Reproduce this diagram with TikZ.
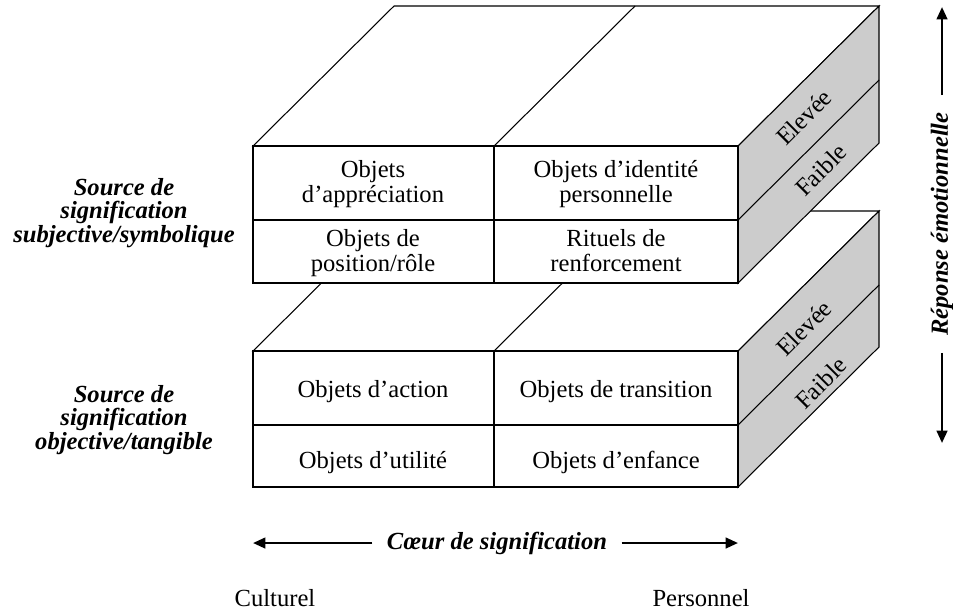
\documentclass[tikz,border=0pt]{standalone}
\usepackage{fontspec}
\setmainfont{Liberation Serif}
\usetikzlibrary{arrows.meta,calc}
\definecolor{sidegray}{gray}{0.8}

\begin{document}
\begin{tikzpicture}[x=0.02cm, y=-0.02cm, line width=0.6pt,
  cell/.style={align=center, font=\fontsize{14}{14.5}\selectfont},
  onecell/.style={anchor=base, font=\fontsize{14}{14.5}\selectfont},
  sidelabel/.style={rotate=45, inner sep=0pt, font=\fontsize{14}{14.5}\selectfont},
  axislabel/.style={align=center, font=\fontsize{14}{13.5}\selectfont\bfseries\itshape},
  bigarrow/.style={line width=1.4pt, -{Triangle[length=7pt,width=6pt]}}]
\useasboundingbox (0,0) rectangle (955,610);
% Lower block: top face
\draw [fill=white] (253,351) -- (394,211) -- (879,211) -- (738,351) -- cycle;
\draw (494,351) -- (635,211);
% Lower block: side face
\draw [fill=sidegray] (738,351) -- (879,211) -- (879,347) -- (738,487) -- cycle;
\draw (738,425) -- (879,285);
% Lower block: front face
\draw [fill=white] (253,351) rectangle (738,487);
\draw (253,425) -- (738,425);
\draw (494,351) -- (494,487);
% Upper block: top face
\draw [fill=white] (253,146) -- (394,6) -- (879,6) -- (738,146) -- cycle;
\draw (494,146) -- (635,6);
% Upper block: side face
\draw [fill=sidegray] (738,146) -- (879,6) -- (879,143) -- (738,283) -- cycle;
\draw (738,220) -- (879,80);
% Upper block: front face
\draw [fill=white] (253,146) rectangle (738,283);
\draw (253,220) -- (738,220);
\draw (494,146) -- (494,283);
% Cells, upper block
\node [cell] (appr) at (373,185) {Objets\strut\\d’appréciation\strut};
\node [cell] (ident) at (616,185) {Objets d’identité\strut\\personnelle\strut};
\node [cell] (posit) at (373,254) {Objets de\strut\\position/rôle\strut};
\node [cell] (ritu) at (616,254) {Rituels de\strut\\renforcement\strut};
% Cells, lower block
\node [onecell] (actn) at (373,397) {Objets d’action};
\node [onecell] (trans) at (616,397) {Objets de transition};
\node [onecell] (util) at (373,468) {Objets d’utilité};
\node [onecell] (enfan) at (616,468) {Objets d’enfance};
% Side labels
\node [sidelabel] (highup) at (804,117) {Elevée};
\node [sidelabel] (lowup) at (821,170) {Faible};
\node [sidelabel] (highdn) at (804,328) {Elevée};
\node [sidelabel] (lowdn) at (821,383) {Faible};
% Left labels
\node [axislabel] (subj) at (124,213) {Source de\\signification\\subjective/symbolique};
\node [axislabel] (obj) at (124,420) {Source de\\signification\\objective/tangible};
% Emotional response axis
\node [axislabel, rotate=90, inner xsep=9.5pt] (resp) at (942,224) {Réponse émotionnelle};
\coordinate (resptop) at (942,7);
\coordinate (respbot) at (942,443);
\draw [bigarrow] (resp.east) -- (resptop);
\draw [bigarrow] (resp.west) -- (respbot);
% Core of meaning axis
\node [axislabel, inner xsep=8pt] (core) at (497,543) {Cœur de signification};
\coordinate (coreleft) at (253,543);
\coordinate (coreright) at (738,543);
\draw [bigarrow] (core.west) -- (coreleft);
\draw [bigarrow] (core.east) -- (coreright);
% Ends of the axis
\node [font=\fontsize{14}{14.5}\selectfont] (cult) at (275,598) {Culturel};
\node [font=\fontsize{14}{14.5}\selectfont] (pers) at (701,598) {Personnel};
\end{tikzpicture}
\end{document}
